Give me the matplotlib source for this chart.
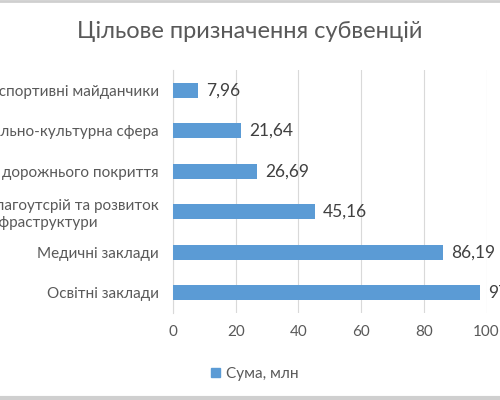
import matplotlib
matplotlib.use("Agg")
import matplotlib.pyplot as plt
from matplotlib.patches import Patch
from matplotlib.lines import Line2D

plt.rcParams['font.family'] = ['Lato', 'Open Sans', 'DejaVu Sans']

# категорії знизу вгору, як у Excel
categories = [
    "Освітні заклади",
    "Медичні заклади",
    "Благоутсрій та розвиток\nінфраструктури",
    "Ремонт дорожнього покриття",
    "Соціально-культурна сфера",
    "Дитячі та спортивні майданчики",
]
values = [97.98, 86.19, 45.16, 26.69, 21.64, 7.96]
value_labels = ["97,98", "86,19", "45,16", "26,69", "21,64", "7,96"]
xticks = [0, 20, 40, 60, 80, 100]

BAR = "#5B9BD5"
GRID = "#D9D9D9"
TXT = "#595959"

fig = plt.figure(figsize=(5, 4), dpi=100)
ax = fig.add_axes([0.346, 0.2175, 0.627, 0.6075])

y = list(range(len(categories)))
ax.barh(y, values, height=0.36, color=BAR, zorder=3)
for yi, v, lab in zip(y, values, value_labels):
    ax.text(v + 2.6, yi, lab, va="center", ha="left", fontsize=12.5, color="#404040")

ax.set_xlim(0, 100)
ax.set_ylim(-0.5, len(categories) - 0.5)
ax.set_xticks(xticks)
ax.set_yticks(y)
ax.set_yticklabels(categories, fontsize=11, color=TXT, linespacing=1.25)
for t in ax.get_yticklabels():
    t.set_multialignment("left")
ax.tick_params(axis="x", labelsize=11, colors=TXT, length=0, pad=9)
ax.tick_params(axis="y", length=0, pad=10)
ax.grid(axis="x", color=GRID, lw=0.8, zorder=0)
for s in ["top", "right", "bottom"]:
    ax.spines[s].set_visible(False)
ax.spines["left"].set_color(GRID)
ax.spines["left"].set_linewidth(0.8)

fig.text(0.5, 0.92, "Цільове призначення субвенцій", ha="center", va="center",
         fontsize=17, color=TXT)

fig.legend(handles=[Patch(color=BAR, label="Сума, млн")], loc="center",
           bbox_to_anchor=(0.51, 0.065), frameon=False, fontsize=11,
           handlelength=0.6, handleheight=0.6, handletextpad=0.4, labelcolor=TXT)

# сіра рамка зверху і знизу
fig.add_artist(Line2D([0, 1], [0.997, 0.997], color="#CFCFCF", lw=2, transform=fig.transFigure))
fig.add_artist(Line2D([0, 1], [0.004, 0.004], color="#CFCFCF", lw=3, transform=fig.transFigure))

fig.savefig("out.png", dpi=100)
